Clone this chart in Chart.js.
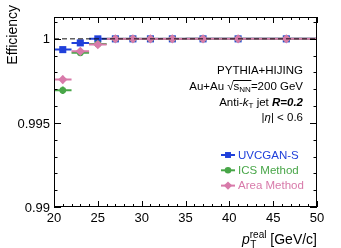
<!DOCTYPE html>
<html>
<head>
<meta charset="utf-8">
<script src="https://cdn.jsdelivr.net/npm/chart.js@4/dist/chart.umd.min.js"></script>
<style>
  html, body { margin: 0; padding: 0; background: #fff; }
</style>
</head>
<body>
<canvas id="effChart" width="341" height="248"></canvas>
<script>
// bins in pT (GeV/c)
const binCenters = [21, 23, 25, 27, 29, 31, 33.5, 37, 41, 46.5];
const binHalfWidths = [1, 1, 1, 1, 1, 1, 1.5, 2, 2, 3.5];

// efficiency per method
const uvcganEff = [0.99936, 0.99976, 1.0, 1.0, 1.0, 1.0, 1.0, 1.0, 1.0, 1.0];
const icsEff = [0.99694, 0.99917, 0.99970, 1.0, 1.0, 1.0, 1.0, 1.0, 1.0, 1.0];
const areaEff = [0.99758, 0.99926, 0.99966, 1.0, 1.0, 1.0, 1.0, 1.0, 1.0, 1.0];

const uvcganErr = [0.00005, 0.00004, 0.00002, 0, 0, 0, 0, 0, 0, 0];
const icsErr = [0.00022, 0.00008, 0.00005, 0, 0, 0, 0, 0, 0, 0];
const areaErr = [0.00022, 0.00008, 0.00005, 0, 0, 0, 0, 0, 0, 0];

const xTicks = [20, 25, 30, 35, 40, 45, 50];
const yTicks = [0.99, 0.995, 1];
const yTickLabels = ["0.99", "0.995", "1"];

const FONT = '"Liberation Sans", Arial, Helvetica, sans-serif';
const BLUE = "rgb(32, 64, 218)";
const GREEN = "rgb(72, 166, 72)";
const PINK = "rgb(216, 122, 170)";

function points(vals) {
  return binCenters.map((x, i) => ({ x: x, y: vals[i] }));
}

// horizontal (bin width) and vertical error bars, drawn right under each dataset
const errorBars = {
  id: "errorBars",
  beforeDatasetDraw(chart, args) {
    const ds = chart.data.datasets[args.index];
    if (!ds.xErr) return;
    const xs = chart.scales.x;
    const ys = chart.scales.y;
    const ctx = chart.ctx;
    ctx.save();
    ctx.strokeStyle = ds.borderColor;
    ctx.lineWidth = 2;
    ds.data.forEach((p, i) => {
      const px = xs.getPixelForValue(p.x);
      const py = ys.getPixelForValue(p.y);
      ctx.beginPath();
      ctx.moveTo(xs.getPixelForValue(p.x - ds.xErr[i]), py);
      ctx.lineTo(xs.getPixelForValue(p.x + ds.xErr[i]), py);
      if (ds.yErr[i] > 0) {
        ctx.moveTo(px, ys.getPixelForValue(p.y - ds.yErr[i]));
        ctx.lineTo(px, ys.getPixelForValue(p.y + ds.yErr[i]));
      }
      ctx.stroke();
    });
    ctx.restore();
  }
};

function drawRuns(ctx, runs, xRight, y) {
  let total = 0;
  runs.forEach(r => {
    ctx.font = r.font;
    r.w = ctx.measureText(r.t).width + (r.gap || 0);
    total += r.w;
  });
  let x = xRight - total;
  runs.forEach(r => {
    ctx.font = r.font;
    r.x = x;
    ctx.fillText(r.t, x, y + (r.dy || 0));
    x += r.w;
  });
  return runs;
}

// ROOT-like frame, inward ticks, labels, text and legend
const frame = {
  id: "frame",
  afterDraw(chart) {
    const ctx = chart.ctx;
    const xs = chart.scales.x;
    const ys = chart.scales.y;
    const a = chart.chartArea;
    ctx.save();
    ctx.strokeStyle = "#000";
    ctx.lineWidth = 1;
    ctx.strokeRect(a.left + 0.5, a.top + 0.5, a.right - a.left - 1, a.bottom - a.top - 1);

    ctx.beginPath();
    for (let v = 20; v <= 50; v += 1) {
      const px = Math.round(xs.getPixelForValue(v)) + 0.5;
      const len = v % 5 === 0 ? 6 : 3;
      ctx.moveTo(px, a.bottom); ctx.lineTo(px, a.bottom - len);
      ctx.moveTo(px, a.top); ctx.lineTo(px, a.top + len);
    }
    for (let k = 0; k <= 11; k++) {
      const v = 0.99 + k * 0.001;
      const py = Math.round(ys.getPixelForValue(v)) + 0.5;
      const len = k % 5 === 0 ? 7 : 3.5;
      ctx.moveTo(a.left, py); ctx.lineTo(a.left + len, py);
      ctx.moveTo(a.right, py); ctx.lineTo(a.right - len, py);
    }
    ctx.stroke();

    ctx.fillStyle = "#000";
    ctx.font = "13px " + FONT;
    ctx.textAlign = "center";
    ctx.textBaseline = "middle";
    xTicks.forEach(v => ctx.fillText(String(v), xs.getPixelForValue(v), a.bottom + 11));
    ctx.textAlign = "right";
    yTicks.forEach((v, i) => ctx.fillText(yTickLabels[i], a.left - 4, ys.getPixelForValue(v) + 1));

    // axis titles
    ctx.save();
    ctx.translate(13, a.top);
    ctx.rotate(-Math.PI / 2);
    ctx.textAlign = "right";
    ctx.font = "14px " + FONT;
    ctx.fillText("Efficiency", 12, 0);
    ctx.restore();

    ctx.textAlign = "left";
    ctx.textBaseline = "alphabetic";
    drawRuns(ctx, [
      { t: "p", font: "italic 14px " + FONT },
      { t: "real", font: "10px " + FONT, dy: -6 },
      { t: " [GeV/c]", font: "14px " + FONT }
    ], a.right, 244);
    ctx.font = "10px " + FONT;
    const px0 = a.right - (function () {
      ctx.font = "14px " + FONT; const w1 = ctx.measureText(" [GeV/c]").width;
      ctx.font = "10px " + FONT; const w2 = ctx.measureText("real").width;
      return w1 + w2;
    })();
    ctx.font = "10px " + FONT;
    ctx.fillText("T", px0 + 0.5, 248);

    // info text
    const big = "11.5px " + FONT;
    const small = "8px " + FONT;
    const tx = 303;
    drawRuns(ctx, [{ t: "PYTHIA+HIJING", font: big }], tx, 74);
    const r2 = drawRuns(ctx, [
      { t: "Au+Au ", font: big },
      { t: "\u221A", font: big },
      { t: "s", font: big },
      { t: "NN", font: small, dy: 2 },
      { t: "=200 GeV", font: big }
    ], tx, 90);
    ctx.beginPath();
    ctx.moveTo(r2[1].x + r2[1].w - 0.5, 90.5 - 10);
    ctx.lineTo(r2[3].x + r2[3].w + 0.5, 90.5 - 10);
    ctx.stroke();
    drawRuns(ctx, [
      { t: "Anti-", font: big },
      { t: "k", font: "italic " + big },
      { t: "T", font: small, dy: 2 },
      { t: " jet ", font: big },
      { t: "R=0.2", font: "bold italic " + big }
    ], tx, 106);
    drawRuns(ctx, [
      { t: "|", font: big },
      { t: "\u03B7", font: "italic " + big },
      { t: "| < 0.6", font: big }
    ], tx, 121);

    // legend
    const legend = [
      { label: "UVCGAN-S", color: BLUE, style: "rect", r: 4.2 },
      { label: "ICS Method", color: GREEN, style: "circle", r: 3.3 },
      { label: "Area Method", color: PINK, style: "rectRot", r: 4.2 }
    ];
    legend.forEach((e, i) => {
      const y = 155 + i * 15.3;
      ctx.strokeStyle = e.color;
      ctx.fillStyle = e.color;
      ctx.lineWidth = 2;
      ctx.beginPath();
      ctx.moveTo(221, y); ctx.lineTo(235, y);
      ctx.stroke();
      Chart.helpers.drawPoint(ctx, { pointStyle: e.style, radius: e.r, borderWidth: 0 }, 228, y);
      ctx.fillStyle = e.color;
      ctx.font = "11.5px " + FONT;
      ctx.textAlign = "left";
      ctx.textBaseline = "middle";
      ctx.fillText(e.label, 238, y + 0.5);
    });
    ctx.restore();
  }
};

function methodSet(label, vals, errs, color, style, radius, order) {
  return {
    label: label,
    data: points(vals),
    xErr: binHalfWidths,
    yErr: errs,
    borderColor: color,
    backgroundColor: color,
    pointStyle: style,
    pointRadius: radius,
    pointBorderWidth: 0,
    showLine: false,
    order: order
  };
}

new Chart(document.getElementById("effChart"), {
  type: "scatter",
  data: {
    datasets: [
      {
        label: "unity",
        type: "line",
        data: [{ x: 20, y: 1 }, { x: 50, y: 1 }],
        borderColor: "#111",
        borderWidth: 1,
        borderDash: [5, 3],
        pointRadius: 0,
        showLine: true,
        order: 0
      },
      methodSet("Area Method", areaEff, areaErr, PINK, "rectRot", 4.6, 1),
      methodSet("ICS Method", icsEff, icsErr, GREEN, "circle", 3.4, 2),
      methodSet("UVCGAN-S", uvcganEff, uvcganErr, BLUE, "rect", 5, 3)
    ]
  },
  options: {
    responsive: false,
    animation: false,
    devicePixelRatio: 1,
    layout: { padding: { left: 54, right: 24, top: 17, bottom: 41 } },
    scales: {
      x: { type: "linear", min: 20, max: 50, display: false },
      y: { type: "linear", min: 0.99, max: 1.0013, display: false }
    },
    plugins: {
      legend: { display: false },
      tooltip: { enabled: false }
    }
  },
  plugins: [errorBars, frame]
});
</script>
</body>
</html>
